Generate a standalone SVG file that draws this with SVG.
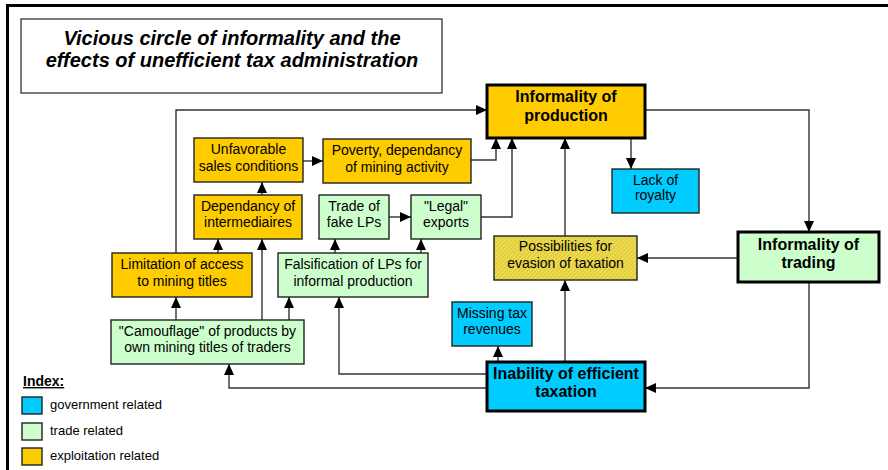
<svg xmlns="http://www.w3.org/2000/svg" width="888" height="470" viewBox="0 0 888 470">
<style>
.t{font-family:"Liberation Sans",Arial,sans-serif;font-size:14px;fill:#000;text-anchor:middle}
.b{font-family:"Liberation Sans",Arial,sans-serif;font-size:16px;font-weight:bold;fill:#000;text-anchor:middle}
.lg{font-family:"Liberation Sans",Arial,sans-serif;font-size:13px;fill:#000}
.thin{stroke:#222;stroke-width:1.4}
.thick{stroke:#000;stroke-width:3}
.or{fill:#FFCC00}
.bl{fill:#00CCFF}
.gr{fill:#CCFFCC}
.c{fill:none;stroke:#333;stroke-width:1.4;marker-end:url(#ah)}
</style>
<defs>
<marker id="ah" viewBox="0 0 11 10" refX="11" refY="5" markerWidth="11" markerHeight="10" markerUnits="userSpaceOnUse" orient="auto">
<path d="M0,0 L11,5 L0,10 z" fill="#000"/>
</marker>
<pattern id="hatch" width="3" height="3" patternUnits="userSpaceOnUse" patternTransform="rotate(45)">
<rect width="3" height="3" fill="#F0DC4A"/>
<line x1="0" y1="0" x2="0" y2="3" stroke="#BFAE3A" stroke-width="1"/>
</pattern>
</defs>
<rect width="888" height="470" fill="#fff"/>
<!-- frame -->
<line x1="6" y1="5.5" x2="888" y2="5.5" stroke="#000" stroke-width="3"/>
<line x1="7.5" y1="4" x2="7.5" y2="470" stroke="#000" stroke-width="3"/>

<g id="title">
<rect x="21" y="19" width="421" height="74" fill="#fff" stroke="#222" stroke-width="1.2"/>
<text x="232" y="45" font-family="Liberation Sans,Arial,sans-serif" font-size="20" font-weight="bold" font-style="italic" text-anchor="middle">Vicious circle of informality and the</text>
<text x="232" y="67" font-family="Liberation Sans,Arial,sans-serif" font-size="20" font-weight="bold" font-style="italic" text-anchor="middle">effects of unefficient tax administration</text>
</g>

<g id="connectors">
<path class="c" d="M176,253 V110 H487"/>
<path class="c" d="M303,161 H323"/>
<path class="c" d="M471,160 H496 V138"/>
<path class="c" d="M481,217 H512 V138"/>
<path class="c" d="M565,236 V138"/>
<path class="c" d="M631,138 V169"/>
<path class="c" d="M645,110 H809 V232"/>
<path class="c" d="M738,258 H637"/>
<path class="c" d="M809,282 V388 H645"/>
<path class="c" d="M565,362 V280"/>
<path class="c" d="M498,362 V346"/>
<path class="c" d="M487,374 H339 V297"/>
<path class="c" d="M487,388 H229 V364"/>
<path class="c" d="M176,320 V297"/>
<path class="c" d="M262,320 V239"/>
<path class="c" d="M289,320 V297"/>
<path class="c" d="M218,253 V239"/>
<path class="c" d="M262,195 V182"/>
<path class="c" d="M335,253 V239"/>
<path class="c" d="M421,253 V239"/>
<path class="c" d="M389,217 H411"/>
</g>

<g id="informality-production">
<rect class="or thick" x="487" y="85" width="158" height="53"/>
<text class="b" x="566" y="102">Informality of</text>
<text class="b" x="566" y="121">production</text>
</g>
<g id="unfavorable">
<rect class="or thin" x="194" y="138" width="109" height="44"/>
<text class="t" x="248.5" y="154">Unfavorable</text>
<text class="t" x="248.5" y="171">sales conditions</text>
</g>
<g id="poverty">
<rect class="or thin" x="323" y="139" width="148" height="44"/>
<text class="t" x="397" y="155">Poverty, dependancy</text>
<text class="t" x="397" y="172">of mining activity</text>
</g>
<g id="lack-royalty">
<rect class="bl thin" x="612" y="169" width="87" height="44"/>
<text class="t" x="655.5" y="185">Lack of</text>
<text class="t" x="655.5" y="200">royalty</text>
</g>
<g id="dependancy">
<rect class="or thin" x="194" y="195" width="108" height="44"/>
<text class="t" x="248" y="211">Dependancy of</text>
<text class="t" x="248" y="227">intermediaires</text>
</g>
<g id="trade-fake">
<rect class="gr thin" x="319" y="195" width="70" height="44"/>
<text class="t" x="354" y="211">Trade of</text>
<text class="t" x="354" y="227">fake LPs</text>
</g>
<g id="legal-exports">
<rect class="gr thin" x="411" y="195" width="70" height="44"/>
<text class="t" x="446" y="211">"Legal"</text>
<text class="t" x="446" y="227">exports</text>
</g>
<g id="informality-trading">
<rect class="gr thick" x="738" y="232" width="141" height="50"/>
<text class="b" x="808.5" y="250">Informality of</text>
<text class="b" x="808.5" y="268">trading</text>
</g>
<g id="possibilities">
<rect x="494" y="236" width="143" height="44" fill="url(#hatch)" stroke="#222" stroke-width="1.4"/>
<text class="t" x="565.5" y="251">Possibilities for</text>
<text class="t" x="565.5" y="268">evasion of taxation</text>
</g>
<g id="limitation">
<rect class="or thin" x="112" y="253" width="140" height="44"/>
<text class="t" x="182" y="269">Limitation of access</text>
<text class="t" x="182" y="286">to mining titles</text>
</g>
<g id="falsification">
<rect class="gr thin" x="278" y="253" width="150" height="44"/>
<text class="t" x="353" y="269">Falsification of LPs for</text>
<text class="t" x="353" y="286">informal production</text>
</g>
<g id="missing-tax">
<rect class="bl thin" x="452" y="302" width="80" height="44"/>
<text class="t" x="492" y="318">Missing tax</text>
<text class="t" x="492" y="334">revenues</text>
</g>
<g id="camouflage">
<rect class="gr thin" x="111" y="320" width="193" height="44"/>
<text class="t" x="207.5" y="336">"Camouflage" of products by</text>
<text class="t" x="207.5" y="352">own mining titles of traders</text>
</g>
<g id="inability">
<rect class="bl thick" x="487" y="362" width="158" height="49"/>
<text class="b" x="566" y="379">Inability of efficient</text>
<text class="b" x="566" y="397">taxation</text>
</g>

<g id="legend">
<text x="23" y="386" font-family="Liberation Sans,Arial,sans-serif" font-size="14" font-weight="bold" text-decoration="underline">Index:</text>
<rect class="bl thin" x="22" y="397" width="20" height="17"/>
<text class="lg" x="50" y="409">government related</text>
<rect class="gr thin" x="22" y="423" width="20" height="17"/>
<text class="lg" x="50" y="435">trade related</text>
<rect class="or thin" x="22" y="448" width="20" height="17"/>
<text class="lg" x="50" y="460">exploitation related</text>
</g>
</svg>
